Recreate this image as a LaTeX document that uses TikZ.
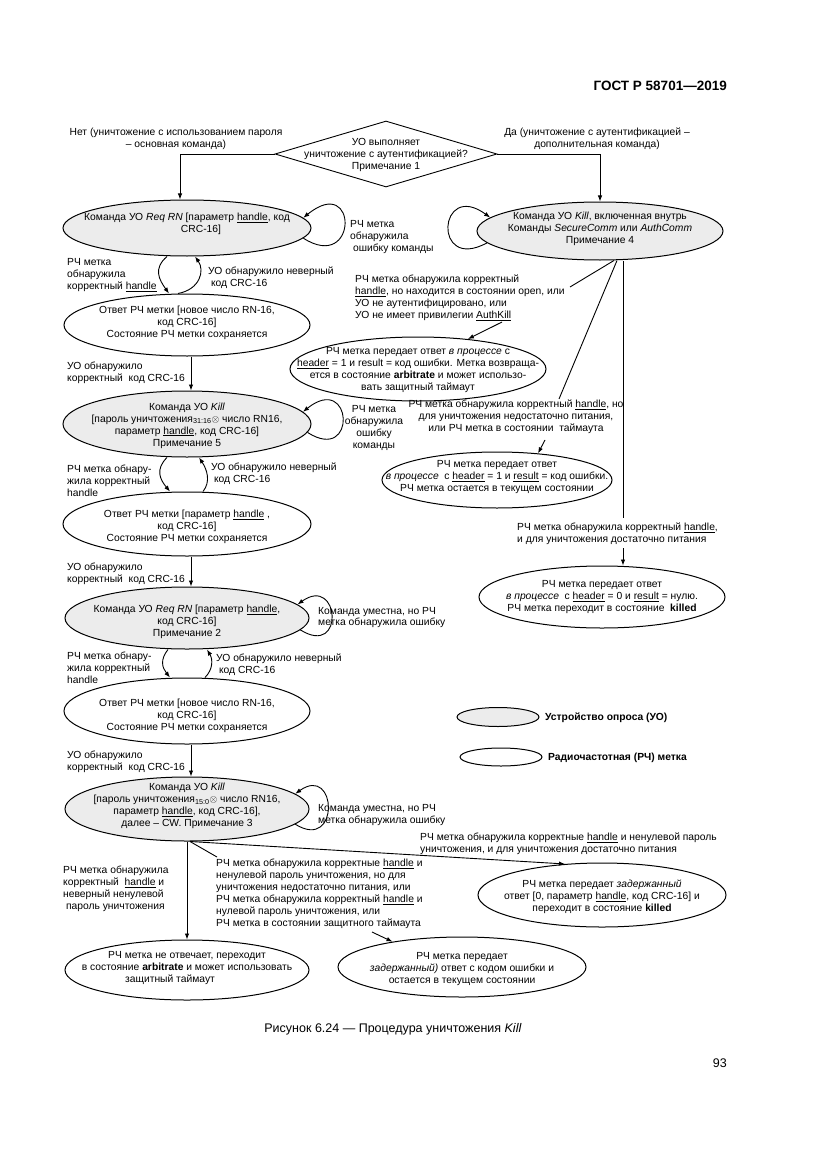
\documentclass[tikz,border=0pt]{standalone}
\usepackage{fontspec}
\setmainfont{Liberation Sans}
\usetikzlibrary{shapes.geometric,arrows.meta}
\definecolor{uofill}{RGB}{236,236,236}
\newcommand{\fsz}{\fontsize{10.3}{11.9}\selectfont}
\newcommand{\uln}[1]{\underline{#1}}
\begin{document}
\begin{tikzpicture}[x=1pt,y=-1pt,
  ell/.style={ellipse,draw,line width=1pt,inner sep=0pt},
  uo/.style={ell,fill=uofill},
  rch/.style={ell,fill=white},
  tx/.style={font=\fsz,align=center,inner sep=0pt},
  lb/.style={font=\fsz,align=left,inner sep=0pt,anchor=west},
  lc/.style={font=\fsz,align=center,inner sep=0pt},
  arr/.style={line width=0.9pt,-{Latex[length=6pt,width=4.5pt]}},
  ln/.style={line width=0.9pt},
]
\useasboundingbox (0,0) rectangle (826,1169);

% header, caption, page
\node[font=\fontsize{13.5}{16}\selectfont\bfseries,anchor=east,inner sep=0pt] (H) at (727,86) {ГОСТ Р 58701—2019};
\node[font=\fontsize{12.5}{15}\selectfont,inner sep=0pt] (CAP) at (393,1029) {Рисунок 6.24 — Процедура уничтожения \textit{Kill}};
\node[font=\fontsize{12.5}{15}\selectfont,anchor=east,inner sep=0pt] (PG) at (727,1063) {93};

% decision
\node[diamond,draw,line width=0.9pt,inner sep=0pt,minimum width=222pt,minimum height=66pt] (D) at (386,154) {};
\node[tx] (DT) at (386,155) {УО выполняет\\уничтожение с аутентификацией?\\Примечание 1};
\node[lc] (LNO) at (176,138.5) {Нет (уничтожение с использованием пароля\\– основная команда)};
\node[lc] (LYES) at (597,138.5) {Да (уничтожение с аутентификацией –\\дополнительная команда)};

% left column ellipses
\node[uo,minimum width=248pt,minimum height=56pt] (E1) at (187,228) {};
\node[tx] (T1) at (187,224) {Команда УО \textit{Req RN} [параметр \uln{handle}, код\\\hspace*{28pt}CRC-16]};
\node[rch,minimum width=246pt,minimum height=62pt] (E2) at (187,325) {};
\node[tx] (T2) at (187,323) {Ответ РЧ метки [новое число RN-16,\\код CRC-16]\\Состояние РЧ метки сохраняется};
\node[uo,minimum width=248pt,minimum height=66pt] (E3) at (187,424) {};
\node[tx] (T3) at (187,425.5) {Команда УО \textit{Kill}\\{[}пароль уничтожения\textsubscript{31:16}$\otimes$ число RN16,\\параметр \uln{handle}, код CRC-16]\\Примечание 5};
\node[rch,minimum width=248pt,minimum height=64pt] (E4) at (187,524) {};
\node[tx] (T4) at (187,527) {Ответ РЧ метки [параметр \uln{handle} ,\\код CRC-16]\\Состояние РЧ метки сохраняется};
\node[uo,minimum width=244pt,minimum height=62pt] (E5) at (187,618) {};
\node[tx] (T5) at (187,622) {Команда УО \textit{Req RN} [параметр \uln{handle},\\код CRC-16]\\Примечание 2};
\node[rch,minimum width=246pt,minimum height=66pt] (E6) at (187,711) {};
\node[tx] (T6) at (187,716) {Ответ РЧ метки [новое число RN-16,\\код CRC-16]\\Состояние РЧ метки сохраняется};
\node[uo,minimum width=244pt,minimum height=64pt] (E7) at (187,809) {};
\node[tx] (T7) at (187,806) {Команда УО \textit{Kill}\\{[}пароль уничтожения\textsubscript{15:0}$\otimes$ число RN16,\\параметр \uln{handle}, код CRC-16],\\далее – CW. Примечание 3};
\node[rch,minimum width=244pt,minimum height=60pt] (E8) at (187,970) {};
\node[tx] (T8) at (187,968) {РЧ метка не отвечает, переходит\\в состояние \textbf{arbitrate} и может использовать\\защитный таймаут\hspace*{34pt}};

% right side ellipses
\node[uo,minimum width=246pt,minimum height=58pt] (E11) at (600,231) {};
\node[tx] (T11) at (600,229) {Команда УО \textit{Kill}, включенная внутрь\\Команды \textit{SecureComm} или \textit{AuthComm}\\Примечание 4};
\node[rch,minimum width=256pt,minimum height=64pt] (E12) at (418,369) {};
\node[tx] (T12) at (418,370) {РЧ метка передает ответ \textit{в процессе} с\\\uln{header} = 1 и result = код ошибки. Метка возвраща-\\ется в состояние \textbf{arbitrate} и может использо-\\вать защитный таймаут};
\node[rch,minimum width=230pt,minimum height=56pt] (E13) at (497,480) {};
\node[tx] (T13) at (497,477) {РЧ метка передает ответ\\\textit{в процессе}\ \ с \uln{header} = 1 и \uln{result} = код ошибки.\\РЧ метка остается в текущем состоянии};
\node[rch,minimum width=246pt,minimum height=62pt] (E14) at (602,597) {};
\node[tx] (T14) at (602,597) {РЧ метка передает ответ\\\textit{в процессе}\ \ с \uln{header} = 0 и \uln{result} = нулю.\\РЧ метка переходит в состояние\ \ \textbf{killed}};
\node[rch,minimum width=248pt,minimum height=64pt] (E9) at (602,895) {};
\node[tx] (T9) at (602,897) {РЧ метка передает \textit{задержанный}\\ответ [0, параметр \uln{handle}, код CRC-16] и\\переходит в состояние \textbf{killed}};
\node[rch,minimum width=248pt,minimum height=60pt] (E10) at (462,967) {};
\node[tx] (T10) at (462,969) {РЧ метка передает\\\textit{задержанный)} ответ с кодом ошибки и\\остается в текущем состоянии};

% legend
\node[uo,minimum width=82pt,minimum height=19pt] (LG1) at (498,717) {};
\node[lb,font=\fsz\bfseries] (LG1T) at (545,718) {Устройство опроса (УО)};
\node[rch,minimum width=82pt,minimum height=18pt] (LG2) at (501,757) {};
\node[lb,font=\fsz\bfseries] (LG2T) at (548,758) {Радиочастотная (РЧ) метка};

% labels left column
\node[lb] (L1) at (350,237) {РЧ метка\\обнаружила\\\ ошибку команды};
\node[lb] (L2) at (67,275) {РЧ метка\\обнаружила\\корректный \uln{handle}};
\node[lb] (L3) at (208,277.5) {УО обнаружило неверный\\\ код CRC-16};
\node[lb] (L4) at (67,373) {УО обнаружило\\корректный\ \ код CRC-16};
\node[lc] (L5) at (374,428) {РЧ метка\\обнаружила\\ошибку\\команды};
\node[lb] (L6) at (67,481) {РЧ метка обнару-\\жила корректный\\handle};
\node[lb] (L7) at (211,474) {УО обнаружило неверный\\\ код CRC-16};
\node[lb] (L8) at (67,573.5) {УО обнаружило\\корректный\ \ код CRC-16};
\node[lb] (L9) at (318,617.5) {Команда уместна, но РЧ\\метка обнаружила ошибку};
\node[lb] (L10) at (67,668) {РЧ метка обнару-\\жила корректный\\handle};
\node[lb] (L11) at (216,665) {УО обнаружило неверный\\\ код CRC-16};
\node[lb] (L12) at (67,761.5) {УО обнаружило\\корректный\ \ код CRC-16};
\node[lb] (L13) at (318,815) {Команда уместна, но РЧ\\метка обнаружила ошибку};
\node[lb] (L14) at (63,889) {РЧ метка обнаружила\\корректный\ \ \uln{handle} и\\неверный ненулевой\\\ пароль уничтожения};
\node[lb] (L15) at (216,894) {РЧ метка обнаружила корректные \uln{handle} и\\ненулевой пароль уничтожения, но для\\уничтожения недостаточно питания, или\\РЧ метка обнаружила корректный \uln{handle} и\\нулевой пароль уничтожения, или\\РЧ метка в состоянии защитного таймаута};
\node[lb] (L16) at (420,843.5) {РЧ метка обнаружила корректные \uln{handle} и ненулевой пароль\\уничтожения, и для уничтожения достаточно питания};
% labels right side
\node[lb] (L17) at (355,298) {РЧ метка обнаружила корректный\\\uln{handle}, но находится в состоянии open, или\\УО не аутентифицировано, или\\УО не имеет привилегии \uln{AuthKill}};
\node[lc] (L18) at (516,416.5) {РЧ метка обнаружила корректный \uln{handle}, но\\для уничтожения недостаточно питания,\\или РЧ метка в состоянии\ \ таймаута};
\node[lb] (L19) at (517,533.5) {РЧ метка обнаружила корректный \uln{handle},\\и для уничтожения достаточно питания};

% free ends of broken connectors
\coordinate (c1) at (570,287);
\coordinate (c2) at (502,322);
\coordinate (c3) at (559,399);
\coordinate (c4) at (545,440);
\coordinate (c5) at (623,518);
\coordinate (c6) at (623,548);
\coordinate (c7) at (217,857);
\coordinate (c8) at (372,932);

% decision connectors
\draw[arr] (D.west) -| ([xshift=-7pt]E1.north);
\draw[arr] (D.east) -| (E11.north);

% left column vertical arrows
\draw[arr] ([xshift=4pt]E2.south) -- ([xshift=4pt]E3.north);
\draw[arr] ([xshift=4pt]E4.south) -- ([xshift=4pt]E5.north);
\draw[arr] ([xshift=4pt]E6.south) -- ([xshift=4pt]E7.north);

% two-way loops
\draw[arr] ([xshift=-20pt]E1.south) .. controls +(-14,12) and +(-10,-14) .. ([xshift=-18pt]E2.north);
\draw[arr] ([xshift=-9pt]E2.north) .. controls +(22,-4) and +(10,14) .. ([xshift=8pt]E1.south);
\draw[arr] ([xshift=-20pt]E3.south) .. controls +(-12,12) and +(-10,-12) .. ([xshift=-17pt]E4.north);
\draw[arr] ([xshift=16pt]E4.north) .. controls +(8,-10) and +(8,12) .. ([xshift=12pt]E3.south);
\draw[arr] ([xshift=-19pt]E5.south) .. controls +(-8,10) and +(-8,-10) .. ([xshift=-17pt]E6.north);
\draw[arr] ([xshift=18pt]E6.north) .. controls +(8,-8) and +(6,10) .. ([xshift=20pt]E5.south);

% self loops
\draw[arr] (E1.-5) .. controls +(55,35) and +(55,-45) .. (E1.5);
\draw[arr] (E3.-4) .. controls +(50,32) and +(50,-40) .. (E3.6);
\draw[arr] (E5.-6) .. controls +(45,28) and +(42,-30) .. (E5.7);
\draw[arr] (E7.-8) .. controls +(45,28) and +(42,-30) .. (E7.8);
\draw[arr] (E11.186) .. controls +(-55,30) and +(-52,-38) .. (E11.173);

% right side connectors
\draw[ln] ([xshift=14pt]E11.south) -- (c1);
\draw[arr] (c2) -- (E12.31);
\draw[ln] ([xshift=17pt]E11.south) -- (c3);
\draw[arr] (c4) -- (E13.33);
\draw[ln] ([xshift=23pt]E11.south) -- (c5);
\draw[arr] (c6) -- ([xshift=21pt]E14.north);

% bottom connectors
\draw[arr] (E7.south) -- (E8.north);
\draw[ln] ([xshift=3pt]E7.south) -- (c7);
\draw[arr] (c8) -- (E10.160);
\draw[arr] ([xshift=3pt]E7.south) -- (E9.140);
\end{tikzpicture}
\end{document}
